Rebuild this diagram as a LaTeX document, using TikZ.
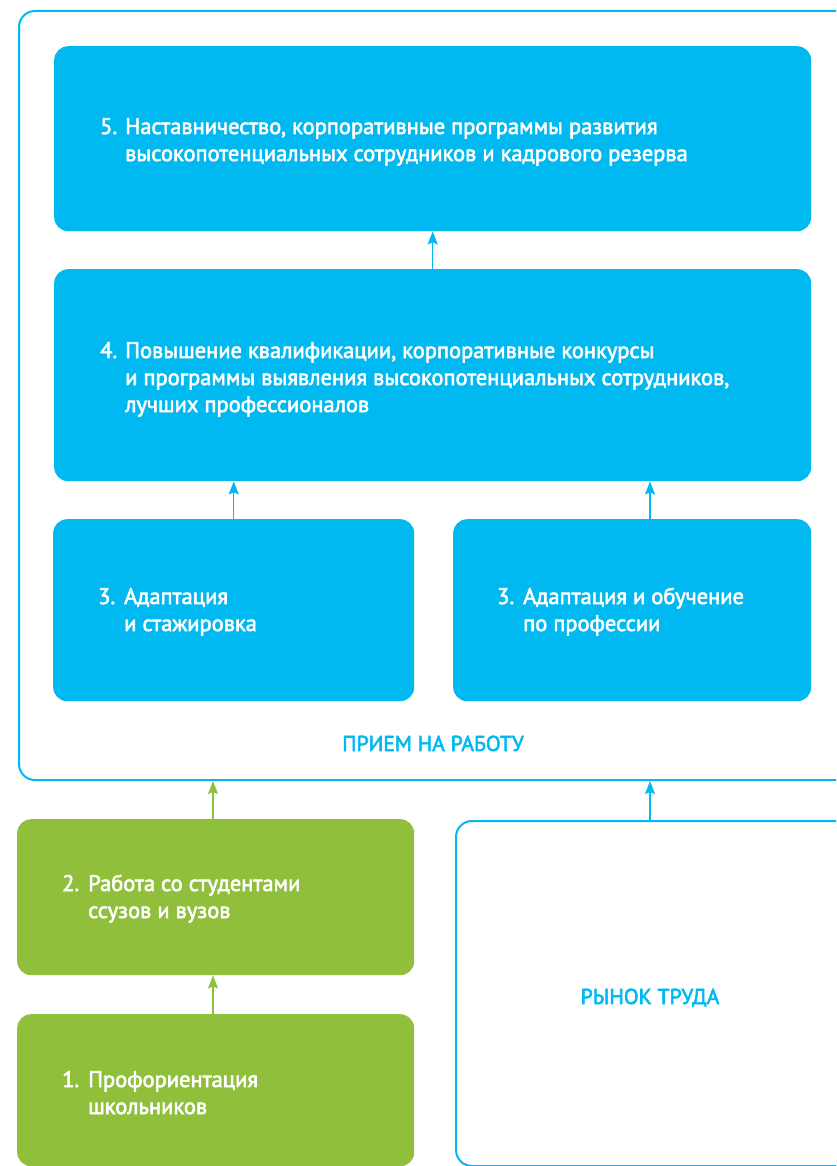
\documentclass[tikz,border=0pt]{standalone}
\usepackage{fontspec}
\setmainfont{PT Sans}
\newfontfamily\medfont{PT Sans}[FakeBold=2.5]
\usetikzlibrary{arrows.meta}
\definecolor{cblue}{RGB}{0,185,240}
\definecolor{cgreen}{RGB}{143,191,59}
\tikzset{
  px/.style={x=1pt,y=-1pt},
  bluebox/.style={fill=cblue,draw=none,rounded corners=14pt,anchor=north west,inner sep=0pt},
  greenbox/.style={fill=cgreen,draw=none,rounded corners=14pt,anchor=north west,inner sep=0pt},
  framebox/.style={draw=cblue,line width=2pt,rounded corners=16pt,anchor=north west,inner sep=0pt},
  boxtext/.style={text=white,anchor=base west,inner sep=0pt,font=\medfont\fontsize{22.5}{27}\selectfont},
  label/.style={text=cblue,anchor=base,inner sep=0pt,font=\medfont\fontsize{21.6}{24}\selectfont},
  barrow/.style={draw=cblue,line width=1.3pt,-{Stealth[length=13pt,width=10pt,inset=2pt]}},
  garrow/.style={draw=cgreen,line width=1.3pt,-{Stealth[length=13pt,width=10pt,inset=2pt]}},
}
\newcommand{\twocol}[1]{\begin{tabular}[t]{@{}l@{}}#1\end{tabular}}
\begin{document}
\begin{tikzpicture}[px]
\useasboundingbox (0,0) rectangle (836,1166);
\clip (0,0) rectangle (836,1166);
% outer frame
\node[framebox,minimum width=880pt,minimum height=769pt] (frame) at (18,10) {};
% blue boxes
\node[bluebox,minimum width=757pt,minimum height=185pt] (b5) at (54,46) {};
\node[bluebox,minimum width=757pt,minimum height=212pt] (b4) at (54,269) {};
\node[bluebox,minimum width=361pt,minimum height=182pt] (b3a) at (53,519) {};
\node[bluebox,minimum width=358pt,minimum height=182pt] (b3b) at (453,519) {};
% green boxes
\node[greenbox,minimum width=397pt,minimum height=156pt] (g2) at (17,819) {};
\node[greenbox,minimum width=397pt,minimum height=152pt] (g1) at (17,1014) {};
% labour market
\node[framebox,minimum width=420pt,minimum height=345pt] (rt) at (455,820) {};
% texts
\node[boxtext] (t5n) at (100,134) {5.};
\node[boxtext] (t5) at (125,134) {\twocol{Наставничество, корпоративные программы развития\\высокопотенциальных сотрудников и кадрового резерва}};
\node[boxtext] (t4n) at (100,358) {4.};
\node[boxtext] (t4) at (125,358) {\twocol{Повышение квалификации, корпоративные конкурсы\\и программы выявления высокопотенциальных сотрудников,\\лучших профессионалов}};
\node[boxtext] (t3an) at (98,604) {3.};
\node[boxtext] (t3a) at (124,604) {\twocol{Адаптация\\и стажировка}};
\node[boxtext] (t3bn) at (497,604) {3.};
\node[boxtext] (t3b) at (523,604) {\twocol{Адаптация и обучение\\по профессии}};
\node[boxtext] (t2n) at (62,891) {2.};
\node[boxtext] (t2) at (88,891) {\twocol{Работа со студентами\\ссузов и вузов}};
\node[boxtext] (t1n) at (62,1087) {1.};
\node[boxtext] (t1) at (88,1087) {\twocol{Профориентация\\школьников}};
\node[label] (lpr) at (433,751) {ПРИЕМ НА РАБОТУ};
\node[label] (lrt) at (650,1004) {РЫНОК ТРУДА};
% connectors
\coordinate (xa) at (650,0);
\coordinate (xg) at (213,0);
\draw[barrow] (b4.north) -- (b5.south);
\draw[barrow] (b3a.north) -- (b3a.north |- b4.south);
\draw[barrow] (b3b.north -| xa) -- (b4.south -| xa);
\draw[garrow] (g2.north -| xg) -- (frame.south -| xg);
\draw[garrow] (g1.north -| xg) -- (g2.south -| xg);
\draw[barrow] (rt.north -| xa) -- (frame.south -| xa);
\end{tikzpicture}
\end{document}
